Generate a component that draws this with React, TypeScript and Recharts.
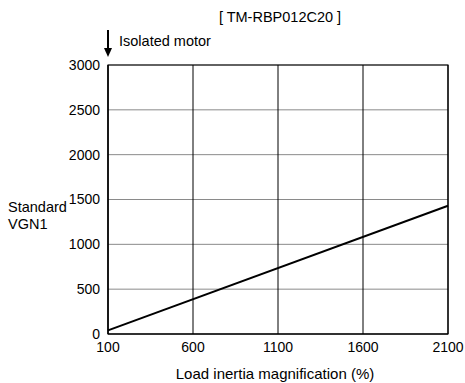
import {
  CartesianGrid,
  Line,
  LineChart,
  ReferenceArea,
  XAxis,
  YAxis,
} from 'recharts';

const inertia = [100, 2100];
const vgn1 = [40, 1430];
const xTicks = [100, 600, 1100, 1600, 2100];
const yTicks = [0, 500, 1000, 1500, 2000, 2500, 3000];

const data = inertia.map((x, i) => ({ x, y: vgn1[i] }));

const FONT = '"Liberation Sans", Arial, sans-serif';
const tick = { fill: '#000', fontSize: 14, fontFamily: FONT };

export default function App() {
  return (
    <div style={{ position: 'absolute', left: 0, top: 0, width: 465, height: 383, background: '#fff' }}>
      <LineChart
        width={465}
        height={383}
        data={data}
        margin={{ top: 65, right: 17, bottom: 19, left: 0 }}
      >
        <CartesianGrid vertical={false} stroke="#8a8a8a" />
        <CartesianGrid horizontal={false} stroke="#000" />
        <XAxis
          dataKey="x"
          type="number"
          domain={[100, 2100]}
          ticks={xTicks}
          tickLine={false}
          axisLine={{ stroke: '#000' }}
          tick={tick}
        />
        <YAxis
          type="number"
          domain={[0, 3000]}
          ticks={yTicks}
          width={108}
          tickLine={false}
          axisLine={{ stroke: '#000' }}
          tick={tick}
        />
        <ReferenceArea x1={100} x2={2100} y1={0} y2={3000} fill="none" stroke="#000" strokeWidth={1.2} />
        <Line
          dataKey="y"
          stroke="#000"
          strokeWidth={2}
          dot={false}
          isAnimationActive={false}
        />
      </LineChart>
      <svg
        width={465}
        height={383}
        style={{ position: 'absolute', left: 0, top: 0, pointerEvents: 'none' }}
        fontFamily={FONT}
        fontSize={14.5}
      >
        <text x={280} y={22} textAnchor="middle">[ TM-RBP012C20 ]</text>
        <text x={119} y={46}>Isolated motor</text>
        <line x1={108} y1={30} x2={108} y2={50} stroke="#000" strokeWidth={2} />
        <polygon points="104,48 112,48 108,57" fill="#000" />
        <text x={8} y={212}>Standard</text>
        <text x={8} y={229}>VGN1</text>
        <text x={275} y={379} textAnchor="middle" fontSize={15}>Load inertia magnification (%)</text>
      </svg>
    </div>
  );
}
